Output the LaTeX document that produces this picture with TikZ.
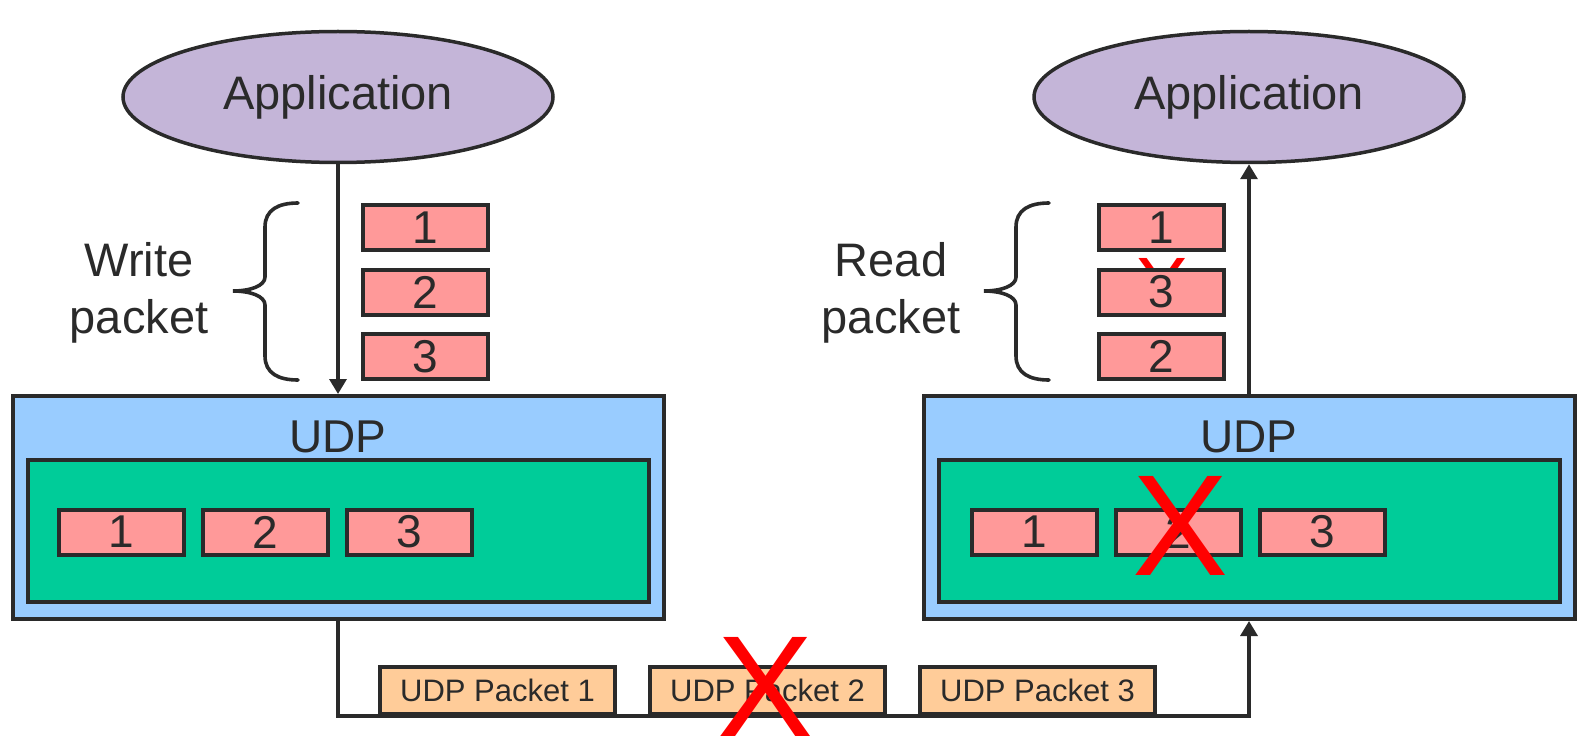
\documentclass[tikz,border=0pt]{standalone}
\usepackage{fontspec}
\setmainfont{Liberation Sans}
\usetikzlibrary{arrows.meta,positioning,shapes.geometric,backgrounds}

\definecolor{appfill}{RGB}{196,181,216}
\definecolor{udpfill}{RGB}{153,204,255}
\definecolor{buffill}{RGB}{0,204,153}
\definecolor{segfill}{RGB}{255,153,153}
\definecolor{pktfill}{RGB}{255,204,153}
\definecolor{ink}{RGB}{42,42,42}
\definecolor{lossred}{RGB}{255,0,0}

\tikzset{
  app/.style={draw=ink, line width=3.5pt, ellipse, fill=appfill, minimum width=430pt, minimum height=131pt, text=ink, font=\fontsize{47}{56}\selectfont},
  udpbox/.style={draw=ink, line width=4pt, fill=udpfill, minimum width=651pt, minimum height=223pt},
  bufbox/.style={draw=ink, line width=4pt, fill=buffill, minimum width=621pt, minimum height=142pt},
  seg/.style={draw=ink, line width=4pt, fill=segfill, minimum width=125pt, minimum height=45pt, inner sep=0pt, text=ink, font=\fontsize{46}{46}\selectfont},
  pkt/.style={draw=ink, line width=4pt, fill=pktfill, minimum width=235pt, minimum height=47pt, inner sep=0pt, text=ink, font=\fontsize{31}{31}\selectfont},
  lbl/.style={align=center, text=ink, font=\fontsize{47}{57}\selectfont},
  lost/.style={text=lossred, inner sep=0pt, font=\fontsize{144}{144}\selectfont},
  brace/.style={draw=ink, line width=3.6pt, line cap=round},
  conn/.style={draw=ink, line width=3.4pt},
}

\begin{document}
\begin{tikzpicture}[x=1pt, y=-1pt, >={Triangle[length=15pt,width=17pt]}]
    \useasboundingbox (0,0) rectangle (1578,738);

    % applications
    \node[app] (app1) at (338,97) {Application};
    \node[app] (app2) at (1249,97) {Application};

    % UDP layers
    \node[udpbox] (udp1) at (338,507.5) {};
    \node[udpbox] (udp2) at (1249,507.5) {};
    \node[text=ink, font=\fontsize{46}{46}\selectfont, inner sep=0pt] (udpt1) at (338,437) {UDP};
    \node[text=ink, font=\fontsize{46}{46}\selectfont, inner sep=0pt] (udpt2) at (1249,437) {UDP};
    \node[bufbox] (buf1) at (338,531) {};
    \node[bufbox] (buf2) at (1249,531) {};

    \node[seg] (snd1) at (121.5,532) {1};
    \node[seg, right=15pt of snd1] (snd2) {2};
    \node[seg, right=15pt of snd2] (snd3) {3};
    \node[seg] (rcv1) at (1034.5,532) {1};
    \node[seg, right=15pt of rcv1] (rcv2) {2};
    \node[seg, right=15pt of rcv2] (rcv3) {3};
    \node[lost] (lostbuf) at (1181,526) {X};

    % packets handed over
    \node[lost, font=\fontsize{80}{80}\selectfont] (lostread) at (1162,286) {X};
    \node[seg] (wr1) at (425.5,227.5) {1};
    \node[seg, below=15.5pt of wr1] (wr2) {2};
    \node[seg, below=15.5pt of wr2] (wr3) {3};
    \node[seg] (rd1) at (1161.5,227.5) {1};
    \node[seg, below=15.5pt of rd1] (rd3) {3};
    \node[seg, below=15.5pt of rd3] (rd2) {2};

    \node[lbl] (wlbl) at (139,293) {Write\\packet};
    \node[lbl] (rlbl) at (891,293) {Read\\packet};
    \foreach \dx in {0,751}
        \draw[brace, xshift=\dx pt] (298,203) .. controls (278,203) and (265,210) .. (265,227) -- (265,277)
            .. controls (265,286) and (250,291) .. (233,291) .. controls (250,291) and (265,296) .. (265,305)
            -- (265,356) .. controls (265,373) and (278,380) .. (298,380);

    \draw[->, conn] (app1.south) -- (udp1.north);
    \draw[->, conn] (udp2.north) -- (app2.south);

    % network
    \node[pkt] (pkt1) at (497.5,690.5) {UDP Packet 1};
    \node[pkt, right=31pt of pkt1] (pkt2) {UDP Packet 2};
    \node[pkt, right=31pt of pkt2] (pkt3) {UDP Packet 3};
    \node[lost] (lostnet) at (766,687) {X};
    \begin{scope}[on background layer]
        \draw[->, conn] (udp1.south) |- (pkt2.south) -| (udp2.south);
    \end{scope}
\end{tikzpicture}
\end{document}
